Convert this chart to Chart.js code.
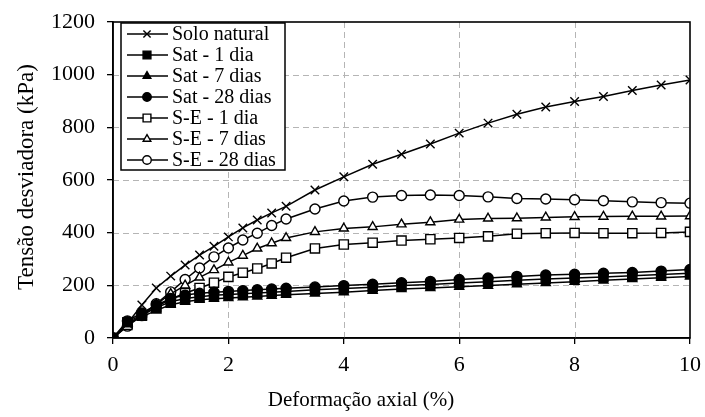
<!DOCTYPE html>
<html>
<head>
<meta charset="utf-8">
<script src="https://cdn.jsdelivr.net/npm/chart.js@4.4.0/dist/chart.umd.min.js"></script>
<style>
  html, body { margin: 0; padding: 0; background: #fff; }
  #wrap { width: 705px; height: 417px; }
</style>
</head>
<body>
<div id="wrap"><canvas id="curveChart" width="705" height="417"></canvas></div>
<script>
// deformação axial (%)
const strain = [0, 0.25, 0.5, 0.75, 1, 1.25, 1.5, 1.75, 2, 2.25, 2.5, 2.75, 3,
  3.5, 4, 4.5, 5, 5.5, 6, 6.5, 7, 7.5, 8, 8.5, 9, 9.5, 10];

// tensão desviadora (kPa)
const soloNatural = [0, 55, 125, 190, 235, 277, 315, 348, 384, 418, 448, 475, 500,
  562, 612, 660, 698, 737, 778, 816, 850, 877, 898, 917, 940, 961, 980];
const sat1 = [0, 60, 88, 115, 138, 150, 157, 162, 165, 168, 171, 174, 177,
  183, 188, 193, 199, 203, 209, 214, 219, 224, 228, 232, 236, 241, 246];
const sat7 = [0, 55, 80, 105, 126, 138, 145, 149, 152, 155, 158, 161, 164,
  169, 174, 180, 186, 190, 195, 199, 204, 209, 214, 219, 224, 229, 234];
const sat28 = [0, 65, 95, 125, 150, 163, 170, 174, 177, 180, 183, 186, 189,
  194, 199, 204, 210, 215, 222, 228, 234, 239, 242, 246, 249, 254, 260];
const se1 = [0, 50, 85, 118, 148, 170, 190, 210, 232, 248, 264, 283, 305,
  340, 355, 362, 370, 375, 380, 386, 396, 398, 399, 398, 398, 399, 403];
const se7 = [0, 48, 88, 128, 168, 200, 230, 258, 287, 313, 340, 360, 380,
  403, 416, 422, 432, 440, 450, 454, 455, 458, 460, 461, 462, 462, 463];
const se28 = [0, 45, 85, 130, 175, 222, 266, 308, 342, 372, 398, 427, 452,
  490, 520, 535, 541, 543, 541, 536, 530, 528, 525, 521, 517, 514, 512];

const xTicks = [0, 2, 4, 6, 8, 10];
const yTicks = [0, 200, 400, 600, 800, 1000, 1200];
const xTitle = 'Deformação axial (%)';
const yTitle = 'Tensão desviadora (kPa)';

const serif = "'Liberation Serif', 'DejaVu Serif', serif";

function series(label, values, style, radius, filled) {
  return {
    label,
    data: strain.map((x, i) => ({ x, y: values[i] })),
    borderColor: '#000',
    borderWidth: 1.5,
    backgroundColor: filled ? '#000' : '#fff',
    pointStyle: style,
    pointRadius: radius,
    pointHoverRadius: radius,
    pointBorderWidth: 1.4,
    pointBorderColor: '#000',
    pointBackgroundColor: filled ? '#000' : '#fff',
    showLine: true,
    tension: 0
  };
}

const datasets = [
  series('Solo natural', soloNatural, 'crossRot', 6, false),
  series('Sat - 1 dia', sat1, 'rect', 6.5, true),
  series('Sat - 7 dias', sat7, 'triangle', 5.2, true),
  series('Sat - 28 dias', sat28, 'circle', 5, true),
  series('S-E - 1 dia', se1, 'rect', 6.5, false),
  series('S-E - 7 dias', se7, 'triangle', 5.2, false),
  series('S-E - 28 dias', se28, 'circle', 5, false)
];

// grade tracejada, moldura, títulos dos eixos e legenda em caixa
const frameAndLegend = {
  id: 'frameAndLegend',
  beforeDatasetsDraw(chart) {
    const { ctx, chartArea: a, scales } = chart;
    ctx.save();
    ctx.strokeStyle = '#b5b5b5';
    ctx.lineWidth = 1;
    ctx.setLineDash([6, 4]);
    xTicks.slice(1, -1).forEach(v => {
      const px = Math.round(scales.x.getPixelForValue(v)) + 0.5;
      ctx.beginPath(); ctx.moveTo(px, a.top); ctx.lineTo(px, a.bottom); ctx.stroke();
    });
    yTicks.slice(1, -1).forEach(v => {
      const py = Math.round(scales.y.getPixelForValue(v)) + 0.5;
      ctx.beginPath(); ctx.moveTo(a.left, py); ctx.lineTo(a.right, py); ctx.stroke();
    });
    ctx.restore();
  },
  afterDatasetsDraw(chart) {
    const { ctx, chartArea: a } = chart;
    ctx.save();
    ctx.strokeStyle = '#000';
    ctx.lineWidth = 1.6;
    ctx.strokeRect(a.left, a.top, a.right - a.left, a.bottom - a.top);

    const bx = a.left + 8, by = a.top + 1, bw = 164, bh = 147;
    ctx.fillStyle = '#fff';
    ctx.fillRect(bx, by, bw, bh);
    ctx.lineWidth = 1.5;
    ctx.strokeRect(bx, by, bw, bh);

    ctx.font = '20px ' + serif;
    ctx.textBaseline = 'middle';
    chart.data.datasets.forEach((ds, i) => {
      const y = by + 11 + i * 21;
      ctx.strokeStyle = '#000';
      ctx.lineWidth = 1.4;
      ctx.beginPath();
      ctx.moveTo(bx + 6, y);
      ctx.lineTo(bx + 47, y);
      ctx.stroke();
      ctx.fillStyle = ds.pointBackgroundColor;
      Chart.helpers.drawPoint(ctx, {
        pointStyle: ds.pointStyle,
        radius: ds.pointRadius * 0.85,
        rotation: 0,
        borderWidth: 1.3
      }, bx + 26, y);
      ctx.fillStyle = '#000';
      ctx.fillText(ds.label, bx + 51, y + 1);
    });

    // títulos dos eixos
    ctx.fillStyle = '#000';
    ctx.textAlign = 'center';
    ctx.textBaseline = 'middle';
    ctx.font = '21px ' + serif;
    ctx.fillText(xTitle, 361, 400);
    ctx.translate(27, 177);
    ctx.rotate(-Math.PI / 2);
    ctx.font = '23px ' + serif;
    ctx.fillText(yTitle, 0, 0);
    ctx.restore();
  }
};

new Chart(document.getElementById('curveChart').getContext('2d'), {
  type: 'scatter',
  data: { datasets },
  options: {
    responsive: false,
    animation: false,
    layout: { padding: { top: 22, right: 15, left: 0, bottom: 0 } },
    plugins: {
      legend: { display: false },
      tooltip: { enabled: false }
    },
    scales: {
      x: {
        type: 'linear',
        min: 0, max: 10,
        afterBuildTicks(scale) { scale.ticks = xTicks.map(v => ({ value: v })); },
        afterFit(scale) {
          scale.height = 79;
          scale.paddingLeft = 0;
          scale.paddingRight = 0;
        },
        ticks: {
          color: '#000', font: { family: serif, size: 22 }, padding: 8,
          callback: v => String(v)
        },
        grid: { drawOnChartArea: false, tickColor: '#000', tickLength: 6, lineWidth: 1.3 },
        border: { color: '#000', width: 1.6 }
      },
      y: {
        type: 'linear',
        min: 0, max: 1200,
        afterBuildTicks(scale) { scale.ticks = yTicks.map(v => ({ value: v })); },
        afterFit(scale) {
          scale.width = 113;
          scale.paddingTop = 0;
          scale.paddingBottom = 0;
        },
        ticks: {
          color: '#000', font: { family: serif, size: 22 }, padding: 12,
          callback: v => String(v)
        },
        grid: { drawOnChartArea: false, tickColor: '#000', tickLength: 6, lineWidth: 1.3 },
        border: { color: '#000', width: 1.6 }
      }
    }
  },
  plugins: [frameAndLegend]
});
</script>
</body>
</html>
